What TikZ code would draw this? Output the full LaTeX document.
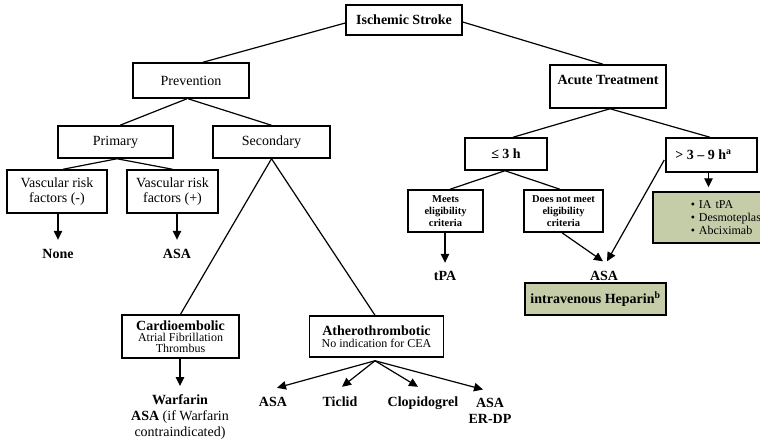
\documentclass[tikz,border=0pt]{standalone}
\usepackage{fontspec}
\setmainfont{Liberation Serif}
\usetikzlibrary{arrows.meta,calc}
\definecolor{sage}{RGB}{196,204,168}
\begin{document}
\begin{tikzpicture}[x=1pt,y=-1pt,
  box/.style={draw=black, line width=1.5pt, fill=white, inner sep=0pt, align=center},
  gbox/.style={box, fill=sage},
  reg/.style={font=\fontsize{14}{15}\selectfont},
  bld/.style={font=\fontsize{14}{15}\selectfont\bfseries},
  sml/.style={font=\fontsize{10.5}{12}\selectfont\bfseries},
  lbl/.style={inner sep=0pt, font=\fontsize{14}{16}\selectfont\bfseries, text height=10pt, text depth=3pt},
  mlbl/.style={inner sep=0pt, align=center, font=\fontsize{14}{16}\selectfont},
  edge/.style={line width=1.2pt},
  arr/.style={line width=1.2pt, -{Triangle[width=8.5pt,length=9pt]}}
]
\useasboundingbox (0,0) rectangle (760,440);
\clip (0,0) rectangle (760,440);
\fill[white] (0,0) rectangle (760,440);

% boxes
\node[box, bld, minimum width=116pt, minimum height=30pt] (stroke) at (404,20) {Ischemic Stroke};
\node[box, reg, minimum width=116pt, minimum height=35pt] (prev) at (191,80.5) {Prevention};
\node[box, bld, minimum width=116pt, minimum height=43pt, text height=10pt, text depth=14pt] (acute) at (608,86.5) {Acute Treatment};
\node[box, reg, minimum width=115pt, minimum height=32pt] (primary) at (115.5,142) {Primary};
\node[box, reg, minimum width=117pt, minimum height=32pt] (secondary) at (271.5,142) {Secondary};
\node[box, bld, minimum width=82pt, minimum height=32pt] (le3) at (506,154) {≤ 3 h};
\node[box, bld, minimum width=91pt, minimum height=34pt] (gt3) at (711.5,155) {> 3 – 9 h\textsuperscript{a}\hspace*{16pt}};
\node[box, reg, minimum width=100pt, minimum height=43pt] (vrm) at (57,191.5) {Vascular risk\\factors (-)};
\node[box, reg, minimum width=91pt, minimum height=43pt] (vrp) at (172.5,191.5) {Vascular risk\\factors (+)};
\node[box, sml, minimum width=75pt, minimum height=42pt] (meets) at (445.5,211) {Meets\\eligibility\\criteria};
\node[box, sml, minimum width=79pt, minimum height=42pt] (notmeet) at (563.5,211) {Does not meet\\eligibility\\criteria};
\node[gbox, anchor=west, align=left, text width=100pt, inner xsep=38pt, minimum height=51pt,
      font=\fontsize{12}{13}\selectfont] (greenR) at (652,217.5)
      {\textbullet\ IA tPA\\\textbullet\ Desmoteplase\\\textbullet\ Abciximab};
\node[gbox, bld, minimum width=141pt, minimum height=32pt] (heparin) at (595.5,299) {intravenous Heparin\textsuperscript{b}};
\node[box, minimum width=117pt, minimum height=43pt, font=\fontsize{12}{11}\selectfont] (cardio) at (180.5,336.5)
      {{\fontsize{14}{14}\selectfont\bfseries Cardioembolic}\\Atrial Fibrillation\\Thrombus};
\node[box, minimum width=134pt, minimum height=41pt, font=\fontsize{12}{12.5}\selectfont] (athero) at (376.5,336.5)
      {{\fontsize{14}{14}\selectfont\bfseries Atherothrombotic}\\No indication for CEA};

% plain labels
\node[lbl] (none) at (58,255) {None};
\node[lbl] (asa1) at (177,255) {ASA};
\node[lbl] (tpa) at (445,277) {tPA};
\node[lbl] (asa3) at (604,277) {ASA};
\node[lbl] (asa2) at (273,403) {ASA};
\node[lbl] (ticlid) at (340,403) {Ticlid};
\node[lbl] (clopi) at (423,403) {Clopidogrel};
\node[mlbl, anchor=north, font=\fontsize{14}{16}\selectfont\bfseries] (erdp) at (490,398) {ASA\\ER-DP};
\node[mlbl, anchor=north] (warf) at (180,394.5) {\textbf{Warfarin}\\\textbf{ASA} (if Warfarin\\contraindicated)};

% tree lines
\draw[edge] ($(stroke.west)+(0,3)$) -- ($(prev.north)+(12,0)$);
\draw[edge] ($(stroke.east)+(0,2)$) -- ($(acute.north)+(-5,0)$);
\draw[edge] ($(prev.south)+(-4,0)$) -- ($(primary.north)+(4.5,0)$);
\draw[edge] ($(prev.south)+(-3,0)$) -- (secondary.north);
\draw[edge] ($(primary.south)+(1.5,0)$) -- ($(vrm.north)+(6,0)$);
\draw[edge] ($(primary.south)+(1.5,0)$) -- (vrp.north);
\draw[edge] ($(acute.south)+(2,0)$) -- ($(le3.north)+(7,0)$);
\draw[edge] ($(acute.south)+(2,0)$) -- ($(gt3.north)+(-1.5,0)$);
\draw[edge] ($(le3.south)+(-1,0)$) -- ($(meets.north)+(4.5,0)$);
\draw[edge] ($(le3.south)+(-1,0)$) -- ($(notmeet.north)+(-3.5,0)$);
\draw[edge] (secondary.south) -- (cardio.north);
\draw[edge] (secondary.south) -- ($(athero.north)+(-1.5,0)$);

% arrows
\draw[arr, shorten >=8.5pt] (none.north |- vrm.south) -- (none.north);
\draw[arr, shorten >=8.5pt] (asa1.north |- vrp.south) -- (asa1.north);
\draw[arr, shorten >=7.5pt] (tpa.north |- meets.south) -- (tpa.north);
\draw[arr] ($(notmeet.south)+(-1.5,0)$) -- ($(asa3.north)+(-1,-9)$);
\draw[arr] ($(gt3.west)+(-1,5)$) -- ($(asa3.north)+(3,-9)$);
\draw[arr, shorten >=4pt] ($(gt3.south)+(-3,0)$) -- ($(gt3.south |- greenR.north)+(-3,0)$);
\draw[arr, shorten >=8.5pt] (warf.north |- cardio.south) -- (warf.north);
\draw[arr] ($(athero.south)+(-1.5,3)$) -- ($(asa2.north)+(4,-8.5)$);
\draw[arr] ($(athero.south)+(-1.5,3)$) -- ($(ticlid.north)+(2,-9.5)$);
\draw[arr] ($(athero.south)+(-1.5,3)$) -- ($(clopi.north)+(-5,-9.5)$);
\draw[arr] ($(athero.south)+(-1.5,3)$) -- ($(erdp.north)+(-7,-8.5)$);
\end{tikzpicture}
\end{document}
